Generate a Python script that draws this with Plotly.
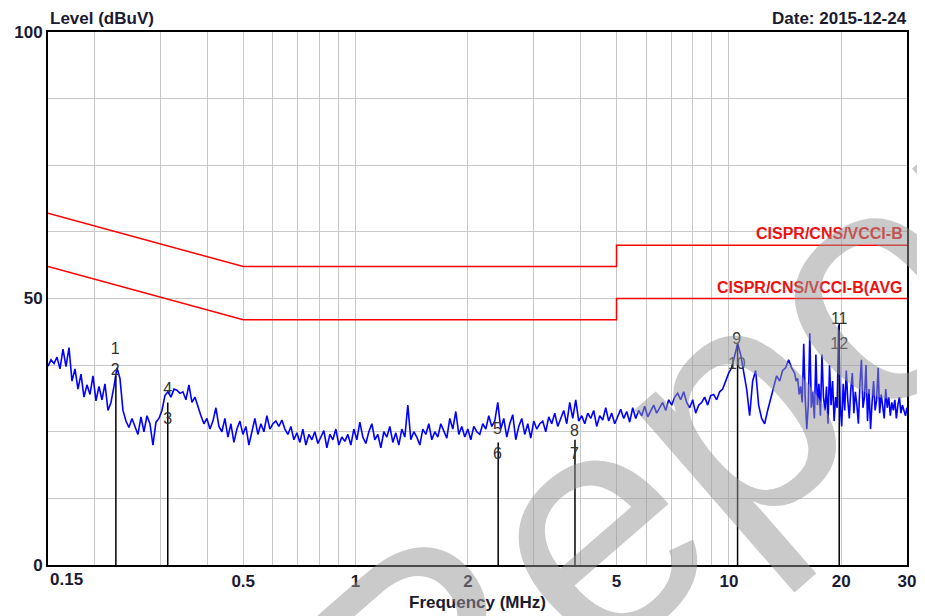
import numpy as np
import plotly.graph_objects as go

# ---------------- data ----------------
# sweep segment A: 0.15 MHz .. 15 MHz, segment B: 15 MHz .. 30 MHz (denser)
seg_a_start_mhz = 0.15
seg_a_stop_mhz = 15.0
seg_b_start_mhz = 15.0
seg_b_stop_mhz = 30.0

seg_a_level_dbuv = [
    37.3, 38.5, 37.8, 39.0, 36.8, 40.5, 37.2, 40.8, 34.5, 36.8,
    33.0, 35.8, 31.5, 33.8, 32.0, 35.5, 30.8, 33.5, 31.0, 34.0,
    29.0, 30.5, 33.5, 37.0, 35.0, 29.0, 27.0, 25.8, 27.5, 26.0,
    24.5, 27.8, 25.0, 28.0, 26.5, 22.5, 26.8, 27.5, 29.0, 31.8,
    32.5, 31.5, 33.0, 32.8, 32.2, 32.5, 31.0, 33.8, 30.5, 31.5,
    29.5, 28.0, 26.5, 27.5, 25.5, 27.0, 29.5, 26.0, 25.0, 27.5,
    24.0, 26.5, 23.0, 25.5, 27.0, 24.5, 26.0, 22.5, 25.0, 27.5,
    24.5, 26.5, 25.0, 28.0, 25.5, 26.5, 27.0, 26.0, 27.2, 25.5,
    24.5, 26.0, 23.5, 24.8, 23.0, 25.5, 22.5, 24.5, 23.5, 25.0,
    22.8, 24.0, 25.2, 22.0, 24.5, 23.5, 25.5, 22.5, 24.0, 23.2,
    24.5, 22.5, 25.5, 23.5, 26.8, 24.0, 22.8, 25.0, 26.5, 23.5,
    24.5, 22.0, 25.0, 24.0, 26.0, 23.0, 24.8, 22.5, 25.5, 24.0,
    30.0, 23.5, 25.0, 24.0, 22.5, 25.5, 24.5, 26.5, 23.5, 25.0,
    24.0, 26.5, 25.0, 23.8, 27.5, 25.5, 28.8, 24.5, 26.0, 24.0,
    25.5, 23.5, 26.0, 25.0, 24.5, 26.5, 25.5, 28.0, 26.0, 27.0,
    30.5, 25.5, 27.5, 24.0, 26.5, 28.2, 23.5, 26.0, 27.5, 24.5,
    26.5, 23.8, 27.0, 25.5, 26.5, 27.0, 25.0, 27.8, 26.5, 28.5,
    26.0, 27.5, 29.0, 26.5, 30.5, 27.5, 31.0, 27.0, 28.0, 26.5,
    28.5, 27.5, 29.0, 26.0, 28.0, 27.2, 29.5, 27.0, 28.5, 26.5,
    28.0, 29.2, 27.5, 28.8, 26.8, 29.5, 27.5, 29.0, 28.0, 29.8,
    27.8, 29.0, 30.0, 28.5, 29.5, 30.5, 29.0, 31.0, 30.0, 31.5,
    32.2, 31.0, 32.5, 30.5, 29.5, 31.0, 28.5, 30.0, 30.5, 31.5,
    30.0, 31.8, 32.0, 31.0, 32.5, 33.0, 34.5, 36.0, 37.0, 39.0,
    41.5, 39.5, 36.0, 33.0, 28.0, 34.5, 36.5, 30.0, 27.5, 26.5,
    29.0, 31.0, 33.5, 35.5, 34.5, 36.5, 37.0, 38.5, 37.0,
]
seg_b_level_dbuv = [
    36.0, 34.5, 35.0, 32.0, 33.5, 30.5, 41.5, 31.0, 25.5, 30.0,
    43.5, 29.5, 32.5, 27.5, 39.5, 30.0, 34.0, 28.0, 39.5, 31.5,
    29.0, 33.5, 26.5, 37.5, 30.0, 34.5, 27.0, 31.5, 29.5, 45.0,
    30.0, 26.0, 34.0, 29.0, 36.5, 31.0, 27.5, 33.0, 36.0, 28.5,
    32.5, 30.0, 26.5, 34.0, 38.5, 29.5, 31.5, 37.5, 27.0, 33.0,
    25.5, 30.5, 34.5, 29.0, 31.0, 37.0, 28.5, 32.0, 30.0, 27.5,
    33.0, 29.5, 31.5, 28.0, 30.5, 29.0, 31.0, 27.5, 30.0, 31.5,
    28.5, 30.0, 29.0, 28.0, 29.5,
]

qp_limit_freq = [0.15, 0.5, 5, 5, 30]
qp_limit_level = [66, 56, 56, 60, 60]
avg_limit_freq = [0.15, 0.5, 5, 5, 30]
avg_limit_level = [56, 46, 46, 50, 50]
qp_limit_name = "CISPR/CNS/VCCI-B"
avg_limit_name = "CISPR/CNS/VCCI-B(AVG"

marker_line_freq = [0.228, 0.314, 2.41, 3.87, 10.55, 19.75]
marker_line_top = [35.5, 30.5, 23.0, 23.5, 41.6, 45.4]

marker_labels = ["1", "2", "3", "4", "5", "6", "7", "8", "9", "10", "11", "12"]
marker_label_freq = [0.227, 0.227, 0.314, 0.314, 2.40, 2.40,
                     3.86, 3.86, 10.5, 10.5, 19.75, 19.75]
marker_label_level = [40.3, 36.4, 27.2, 32.8, 25.3, 20.6,
                      20.6, 25.0, 42.2, 37.5, 46.0, 41.3]

y_grid_vals = [0, 12.5, 25, 37.5, 50, 62.5, 75, 87.5, 100]
y_tick_text = ["0", "", "", "", "50", "", "", "", "100"]
x_grid_vals = [0.15, 0.2, 0.3, 0.4, 0.5, 0.6, 0.7, 0.8, 0.9,
               1, 2, 3, 4, 5, 6, 7, 8, 9, 10, 20, 30]
x_labeled = {0.5: "0.5", 1: "1", 2: "2", 5: "5", 10: "10", 20: "20", 30: "30"}

# ---------------- figure ----------------
freq_a = np.geomspace(seg_a_start_mhz, seg_a_stop_mhz, len(seg_a_level_dbuv), endpoint=False)
freq_b = np.geomspace(seg_b_start_mhz, seg_b_stop_mhz, len(seg_b_level_dbuv))
trace_freq = np.concatenate([freq_a, freq_b])
trace_level = seg_a_level_dbuv + seg_b_level_dbuv

FONT = "Liberation Sans, Arial, sans-serif"
DARK = "#1a1a30"
XMIN, XMAX = np.log10(0.15), np.log10(30)

fig = go.Figure()

fig.add_trace(go.Scatter(x=qp_limit_freq, y=qp_limit_level, mode="lines",
                         line=dict(color="#ff0000", width=1.5), showlegend=False))
fig.add_trace(go.Scatter(x=avg_limit_freq, y=avg_limit_level, mode="lines",
                         line=dict(color="#ff0000", width=1.5), showlegend=False))

fig.add_trace(go.Scatter(x=trace_freq, y=trace_level, mode="lines",
                         line=dict(color="#0000ff", width=1.6), showlegend=False))

mx, my = [], []
for f, t in zip(marker_line_freq, marker_line_top):
    mx += [f, f, None]
    my += [0, t, None]
fig.add_trace(go.Scatter(x=mx, y=my, mode="lines",
                         line=dict(color="#000000", width=1.5), showlegend=False))

fig.add_trace(go.Scatter(x=marker_label_freq, y=marker_label_level, mode="text",
                         text=marker_labels,
                         textfont=dict(family=FONT, size=16, color="#333333"),
                         textposition="middle center", showlegend=False))

annotations = [
    dict(text=qp_limit_name, x=XMAX, y=60, xref="x", yref="y",
         xanchor="right", yanchor="bottom", xshift=-2, yshift=1, showarrow=False,
         font=dict(family=FONT, size=16, color="#ee1111", weight="bold")),
    dict(text=avg_limit_name, x=XMAX, y=50, xref="x", yref="y",
         xanchor="right", yanchor="bottom", xshift=-2, yshift=1, showarrow=False,
         font=dict(family=FONT, size=16, color="#ee1111", weight="bold")),
    dict(text="Level (dBuV)", x=0, y=1, xref="paper", yref="paper",
         xanchor="left", yanchor="middle", yshift=14, showarrow=False,
         font=dict(family=FONT, size=17, color=DARK, weight="bold")),
    dict(text="Date: 2015-12-24", x=1, y=1, xref="paper", yref="paper",
         xanchor="right", yanchor="middle", yshift=14, xshift=2, showarrow=False,
         font=dict(family=FONT, size=17, color=DARK, weight="bold")),
    dict(text="Frequency (MHz)", x=0.5, y=0, xref="paper", yref="paper",
         xanchor="center", yanchor="middle", yshift=-37, showarrow=False,
         font=dict(family=FONT, size=17, color=DARK, weight="bold")),
    dict(text="0.15", x=XMIN, y=0, xref="x", yref="paper",
         xanchor="left", yanchor="middle", yshift=-14, showarrow=False,
         font=dict(family=FONT, size=17, color=DARK, weight="bold")),
    # watermark
    dict(text="Report", x=0.775, y=0.27, xref="paper", yref="paper",
         xanchor="center", yanchor="middle", textangle=-41, showarrow=False,
         font=dict(family=FONT, size=330, color="rgba(150,150,150,0.5)")),
]

# the page body adds an 8px offset, so the figure is sized to fit the window
fig.update_layout(
    width=917, height=608,
    margin=dict(l=40, r=18, t=24, b=51, autoexpand=False),
    paper_bgcolor="white", plot_bgcolor="white",
    annotations=annotations,
    showlegend=False,
)

fig.update_xaxes(
    type="log", range=[XMIN, XMAX], automargin=False,
    tickmode="array", tickvals=x_grid_vals,
    ticktext=[x_labeled.get(v, "") for v in x_grid_vals],
    showgrid=True, gridcolor="#c8c8c8", gridwidth=1,
    showline=True, linecolor="#000000", linewidth=2, mirror=True,
    ticks="", zeroline=False,
    tickfont=dict(family=FONT, size=17, color=DARK, weight="bold"),
)
fig.update_yaxes(
    range=[0, 100], automargin=False,
    tickmode="array", tickvals=y_grid_vals, ticktext=y_tick_text,
    showgrid=True, gridcolor="#c8c8c8", gridwidth=1,
    showline=True, linecolor="#000000", linewidth=2, mirror=True,
    ticks="", zeroline=False,
    tickfont=dict(family=FONT, size=17, color=DARK, weight="bold"),
)

fig.write_html("out.html")
